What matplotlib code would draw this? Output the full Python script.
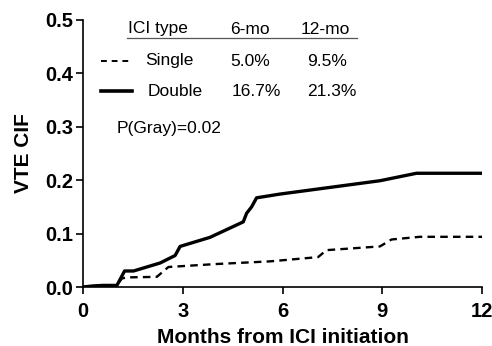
import matplotlib
matplotlib.use("Agg")
import matplotlib.pyplot as plt

# curvas (meses, CIF)
single_x = [0, 0.5, 1.0, 1.17, 1.32, 2.22, 2.57, 4.0, 5.62, 7.07, 7.32, 8.93, 9.28, 10.13, 12]
single_y = [0, 0.002, 0.002, 0.016, 0.018, 0.019, 0.0375, 0.043, 0.048, 0.056, 0.069, 0.076, 0.089, 0.094, 0.094]

double_x = [0, 0.3, 0.6, 1.02, 1.25, 1.52, 2.32, 2.77, 2.92, 3.82, 4.82, 4.92, 5.07, 5.22, 5.92, 8.93, 10.03, 12]
double_y = [0, 0.002, 0.003, 0.003, 0.030, 0.030, 0.045, 0.059, 0.076, 0.093, 0.122, 0.138, 0.150, 0.167, 0.174, 0.199, 0.213, 0.213]

legend_cols = ["ICI type", "6-mo", "12-mo"]
legend_rows = [["Single", "5.0%", "9.5%"], ["Double", "16.7%", "21.3%"]]
p_text = "P(Gray)=0.02"

plt.rcParams['font.family'] = ['Liberation Sans', 'DejaVu Sans']

fig = plt.figure(figsize=(4.92, 3.46), dpi=100)
ax = fig.add_axes([0.1687, 0.1705, 0.811, 0.7717])

ax.plot(single_x, single_y, color='black', lw=1.7, linestyle=(0, (3.2, 2.2)))
ax.plot(double_x, double_y, color='black', lw=2.4)

ax.set_xlim(0, 12)
ax.set_ylim(0, 0.5)
ax.set_xticks([0, 3, 6, 9, 12])
ax.set_yticks([0, 0.1, 0.2, 0.3, 0.4, 0.5])
ax.set_yticklabels(['0.0', '0.1', '0.2', '0.3', '0.4', '0.5'])
for s in ['top', 'right']:
    ax.spines[s].set_visible(False)
for s in ['left', 'bottom']:
    ax.spines[s].set_linewidth(1.2)
ax.tick_params(direction='out', length=5, width=1.2, labelsize=14.5, pad=2)
ax.tick_params(axis='x', pad=6)
for lab in ax.get_xticklabels() + ax.get_yticklabels():
    lab.set_fontweight('bold')
ax.set_xlabel('Months from ICI initiation', fontsize=15, fontweight='bold', labelpad=5)
ax.set_ylabel('VTE CIF', fontsize=15, fontweight='bold', labelpad=9)

# tabela da legenda (coordenadas em pixels da figura)
def fx(px):
    return px / 492
def fy(py):
    return 1 - py / 346

col_x = [128, 230, 301]
for cx, txt in zip(col_x, legend_cols):
    fig.text(fx(cx), fy(29), txt, fontsize=12.5, va='center', ha='left')
fig.add_artist(plt.Line2D([fx(127), fx(357)], [fy(38), fy(38)], color='#555555', lw=0.9))

row_y = [61, 91]
row_x = [[145, 230, 307], [148, 232, 307]]
styles = [dict(lw=1.4, linestyle=(0, (3, 2.5))), dict(lw=2.6, linestyle='-')]
for ry, rx, vals, st in zip(row_y, row_x, legend_rows, styles):
    fig.add_artist(plt.Line2D([fx(101), fx(132)], [fy(ry), fy(ry)], color='black', **st))
    for cx, txt in zip(rx, vals):
        fig.text(fx(cx), fy(ry), txt, fontsize=12.5, va='center', ha='left')

fig.text(fx(117), fy(128), p_text, fontsize=12.5, va='center', ha='left')

fig.savefig('out.png', dpi=100)
